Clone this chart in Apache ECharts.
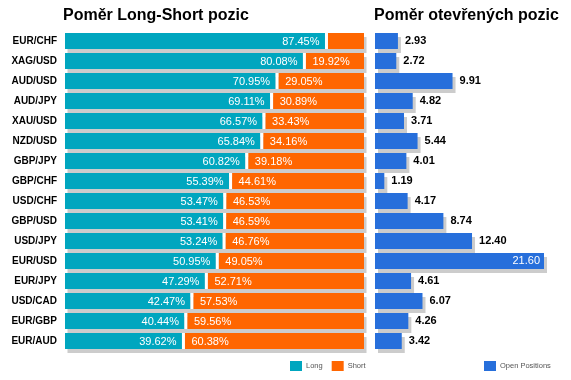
<!DOCTYPE html>
<html><head><meta charset="utf-8">
<script src="https://cdn.jsdelivr.net/npm/echarts@6/dist/echarts.min.js"></script>
<style>html,body{margin:0;padding:0;background:#fff}#c{width:571px;height:380px}</style>
</head><body><div id="c"></div>
<script>
const categories = ['EUR/CHF','XAG/USD','AUD/USD','AUD/JPY','XAU/USD','NZD/USD','GBP/JPY','GBP/CHF','USD/CHF','GBP/USD','USD/JPY','EUR/USD','EUR/JPY','USD/CAD','EUR/GBP','EUR/AUD'];
const longValues = [87.45,80.08,70.95,69.11,66.57,65.84,60.82,55.39,53.47,53.41,53.24,50.95,47.29,42.47,40.44,39.62];
const shortValues = [12.55,19.92,29.05,30.89,33.43,34.16,39.18,44.61,46.53,46.59,46.76,49.05,52.71,57.53,59.56,60.38];
const openPositions = [2.93,2.72,9.91,4.82,3.71,5.44,4.01,1.19,4.17,8.74,12.40,21.60,4.61,6.07,4.26,3.42];
const leftTitle = 'Poměr Long-Short pozic';
const rightTitle = 'Poměr otevřených pozic';

const FONT = '"Liberation Sans", Arial, sans-serif';
const TEAL = '#00A6BF', ORANGE = '#FF6600', BLUE = '#276FDB', SHADOW = '#CCCCCC';
const BAR_H = 16;
const maxOpen = Math.max(...openPositions);

function renderLong(params, api) {
  const i = api.value(2);
  const a = api.coord([api.value(0), i]);
  const b = api.coord([api.value(1), i]);
  const full = api.coord([100, i]);
  const top = a[1] - BAR_H / 2;
  const children = [
    {type: 'rect', shape: {x: a[0] + 2.5, y: top + 4, width: full[0] - a[0], height: BAR_H}, style: {fill: SHADOW}},
    {type: 'rect', shape: {x: a[0], y: top, width: b[0] - a[0] - 1.5, height: BAR_H}, style: {fill: TEAL}},
    {type: 'rect', shape: {x: b[0] - 1.5, y: top, width: 3, height: BAR_H}, style: {fill: '#fff'}},
    {type: 'text', style: {text: api.value(1).toFixed(2) + '%', x: b[0] - 7, y: a[1] + 0.5, align: 'right', verticalAlign: 'middle', fill: '#fff', fontSize: 11, fontFamily: FONT}}
  ];
  return {type: 'group', children};
}
function renderShort(params, api) {
  const i = api.value(2);
  const a = api.coord([api.value(0), i]);
  const b = api.coord([api.value(1), i]);
  const top = a[1] - BAR_H / 2;
  const v = shortValues[i];
  const children = [
    {type: 'rect', shape: {x: a[0] + 1.5, y: top, width: b[0] - a[0] - 1.5, height: BAR_H}, style: {fill: ORANGE}}
  ];
  if (v >= 15) {
    children.push({type: 'text', style: {text: v.toFixed(2) + '%', x: a[0] + 8, y: a[1] + 0.5, align: 'left', verticalAlign: 'middle', fill: '#fff', fontSize: 11, fontFamily: FONT}});
  }
  return {type: 'group', children};
}

const chart = echarts.init(document.getElementById('c'), null, {renderer: 'canvas'});
chart.setOption({
  animation: false,
  backgroundColor: '#fff',
  title: [
    {text: leftTitle, left: 63, top: 8, padding: 0, textStyle: {fontSize: 16, fontWeight: 'bold', color: '#000', fontFamily: FONT}},
    {text: rightTitle, left: 374, top: 8, padding: 0, textStyle: {fontSize: 16, fontWeight: 'bold', color: '#000', fontFamily: FONT}}
  ],
  legend: [
    {data: ['Long', 'Short'], left: 290, top: 361, padding: 0, icon: 'rect', itemWidth: 12, itemHeight: 10, itemGap: 9, selectedMode: false,
     textStyle: {fontSize: 7.5, color: '#555', fontFamily: FONT, padding: [0, 0, 0, -1]}},
    {data: ['Open Positions'], left: 484, top: 361, padding: 0, icon: 'rect', itemWidth: 12, itemHeight: 10, selectedMode: false,
     textStyle: {fontSize: 7.5, color: '#555', fontFamily: FONT, padding: [0, 0, 0, -1]}}
  ],
  grid: [
    {left: 65, top: 31, width: 299, height: 320, containLabel: false},
    {left: 375, top: 31, width: 169, height: 320, containLabel: false}
  ],
  xAxis: [
    {type: 'value', gridIndex: 0, min: 0, max: 100, show: false},
    {type: 'value', gridIndex: 1, min: 0, max: maxOpen, show: false}
  ],
  yAxis: [
    {type: 'category', gridIndex: 0, data: categories, inverse: true,
     axisLine: {show: false}, axisTick: {show: false}, splitLine: {show: false},
     axisLabel: {margin: 8, fontSize: 10, fontWeight: 'bold', color: '#000', fontFamily: FONT}},
    {type: 'category', gridIndex: 1, data: categories, inverse: true, show: false}
  ],
  series: [
    {name: 'Long', type: 'custom', xAxisIndex: 0, yAxisIndex: 0, itemStyle: {color: TEAL},
     encode: {x: [0, 1], y: 2}, renderItem: renderLong,
     data: longValues.map((v, i) => [0, v, i])},
    {name: 'Short', type: 'custom', xAxisIndex: 0, yAxisIndex: 0, itemStyle: {color: ORANGE},
     encode: {x: [0, 1], y: 2}, renderItem: renderShort,
     data: longValues.map((v, i) => [v, 100, i])},
    {name: 'Open Positions', type: 'bar', xAxisIndex: 1, yAxisIndex: 1, barWidth: BAR_H,
     itemStyle: {color: BLUE, shadowColor: SHADOW, shadowBlur: 0, shadowOffsetX: 3, shadowOffsetY: 4},
     label: {show: true, position: 'right', distance: 7, fontSize: 11, fontWeight: 'bold', color: '#000', fontFamily: FONT,
             formatter: p => p.value.toFixed(2)},
     data: openPositions.map(v => v === maxOpen
       ? {value: v, label: {position: 'insideRight', distance: 4, color: '#fff', fontWeight: 'normal'}}
       : v)}
  ]
});
</script>
</body></html>
